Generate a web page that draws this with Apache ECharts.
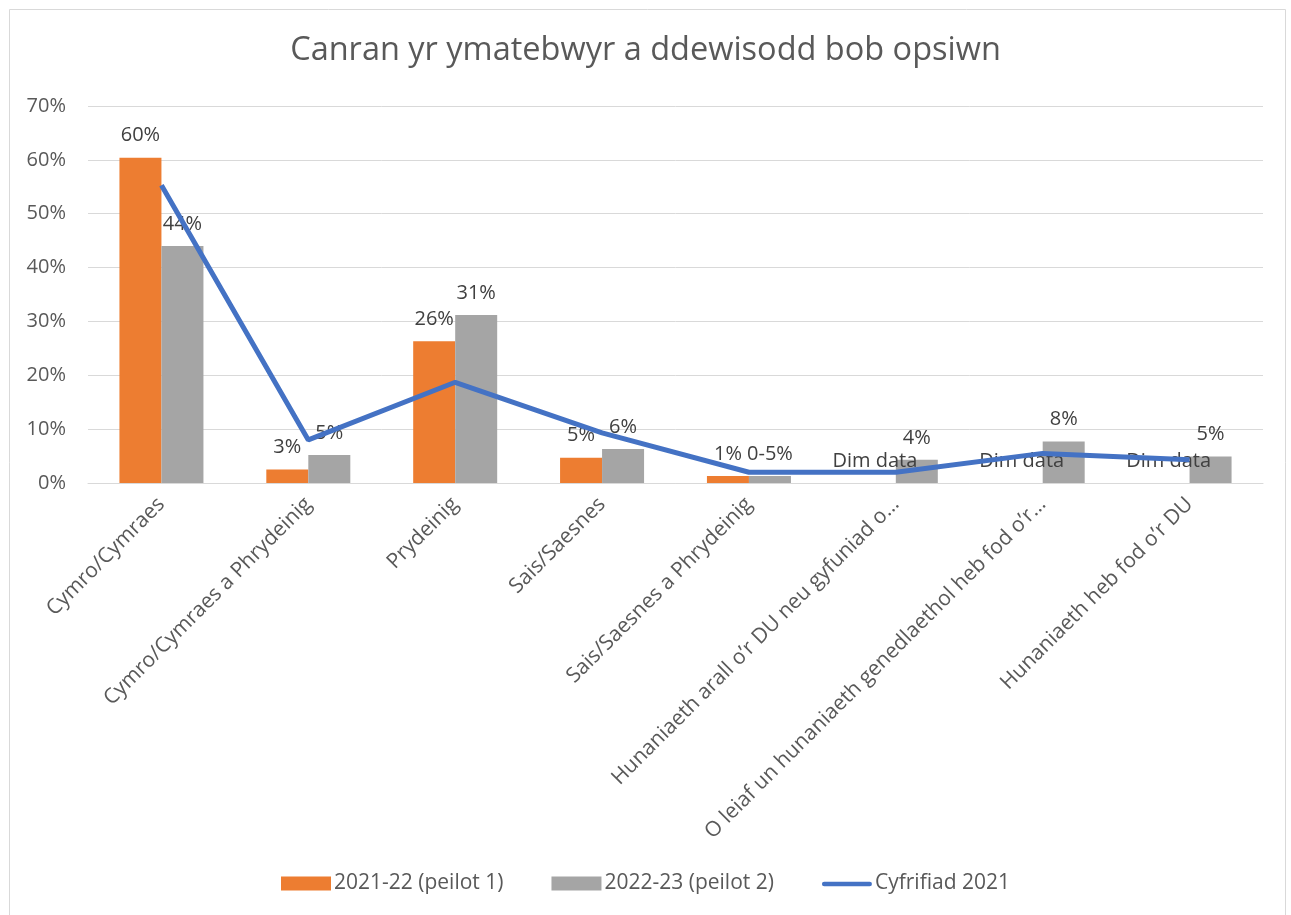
<!DOCTYPE html>
<html>
<head>
<meta charset="utf-8">
<script src="https://cdn.jsdelivr.net/npm/echarts@6/dist/echarts.min.js"></script>
<style>
html,body{margin:0;padding:0;background:#fff;}
#chart{width:1291px;height:915px;}
</style>
</head>
<body>
<div id="chart"></div>
<script>
const titleText = 'Canran yr ymatebwyr a ddewisodd bob opsiwn';
const categories = [
  'Cymro/Cymraes',
  'Cymro/Cymraes a Phrydeinig',
  'Prydeinig',
  'Sais/Saesnes',
  'Sais/Saesnes a Phrydeinig',
  'Hunaniaeth arall o\u2019r DU neu gyfuniad o\u2026',
  'O leiaf un hunaniaeth genedlaethol heb fod o\u2019r\u2026',
  'Hunaniaeth heb fod o\u2019r DU'
];
const seriesNames = ['2021-22 (peilot 1)', '2022-23 (peilot 2)', 'Cyfrifiad 2021'];
const pilot1 = [60.4, 2.5, 26.3, 4.7, 1.3, null, null, null];
const pilot2 = [44.0, 5.2, 31.2, 6.3, 1.3, 4.3, 7.7, 4.9];
const census = [55.3, 8.0, 18.7, 9.3, 2.0, 2.0, 5.5, 4.3];
const pilot1Labels = ['60%', '3%', '26%', '5%', '1%', 'Dim data', 'Dim data', 'Dim data'];
const pilot2Labels = ['44%', '5%', '31%', '6%', '0-5%', '4%', '8%', '5%'];
const yTicks = [0, 10, 20, 30, 40, 50, 60, 70];

const FONT = '"Open Sans", sans-serif';
const chart = echarts.init(document.getElementById('chart'));
chart.setOption({
  backgroundColor: '#fff',
  animation: false,
  textStyle: {fontFamily: FONT},
  graphic: [{
    type: 'rect', left: 7, top: 7, z: -1,
    shape: {width: 1276, height: 930},
    style: {fill: 'none', stroke: '#d9d9d9', lineWidth: 1}
  }],
  title: {
    text: titleText, left: 'center', top: 29,
    textStyle: {fontFamily: FONT, fontSize: 32.5, fontWeight: 'normal', color: '#595959'}
  },
  legend: {
    bottom: 16, left: 'center', itemGap: 48, itemWidth: 50, itemHeight: 14,
    textStyle: {fontFamily: FONT, fontSize: 21, color: '#595959', padding: [0, 0, 0, -2]},
    data: [
      {name: seriesNames[0], icon: 'rect'},
      {name: seriesNames[1], icon: 'rect'},
      {name: seriesNames[2], icon: 'path://M0,0 M2,5 L52,5 A2.5,2.5 0 0 1 52,10 L2,10 A2.5,2.5 0 0 1 2,5 Z M54,14',
       itemStyle: {color: '#4472c4'}}
    ]
  },
  grid: {left: 88, right: 28, top: 106, bottom: 432, containLabel: false},
  xAxis: {
    type: 'category', data: categories,
    axisLine: {lineStyle: {color: '#d9d9d9', width: 1}},
    axisTick: {show: false},
    axisLabel: {rotate: 45, margin: 18, interval: 0, fontFamily: FONT, fontSize: 21, color: '#595959'}
  },
  yAxis: {
    type: 'value', min: yTicks[0], max: yTicks[yTicks.length - 1], interval: 10,
    axisLine: {show: false}, axisTick: {show: false},
    axisLabel: {formatter: '{value}%', margin: 22, fontFamily: FONT, fontSize: 20, color: '#595959'},
    splitLine: {lineStyle: {color: '#d9d9d9', width: 1}}
  },
  series: [
    {
      name: seriesNames[0], type: 'bar', barWidth: 42, barGap: '0%',
      itemStyle: {color: '#ed7d31'},
      data: pilot1.map(v => v === null ? 0 : v),
      label: {
        show: true, position: 'top', distance: 12,
        fontFamily: FONT, fontSize: 20, color: '#404040',
        formatter: p => pilot1Labels[p.dataIndex]
      }
    },
    {
      name: seriesNames[1], type: 'bar', barWidth: 42, barGap: '0%',
      itemStyle: {color: '#a5a5a5'},
      data: pilot2,
      label: {
        show: true, position: 'top', distance: 12,
        fontFamily: FONT, fontSize: 20, color: '#404040',
        formatter: p => pilot2Labels[p.dataIndex]
      }
    },
    {
      name: seriesNames[2], type: 'line', data: census,
      showSymbol: false, symbol: 'none',
      lineStyle: {color: '#4472c4', width: 5},
      itemStyle: {color: '#4472c4'},
      z: 5
    }
  ]
});
</script>
</body>
</html>
